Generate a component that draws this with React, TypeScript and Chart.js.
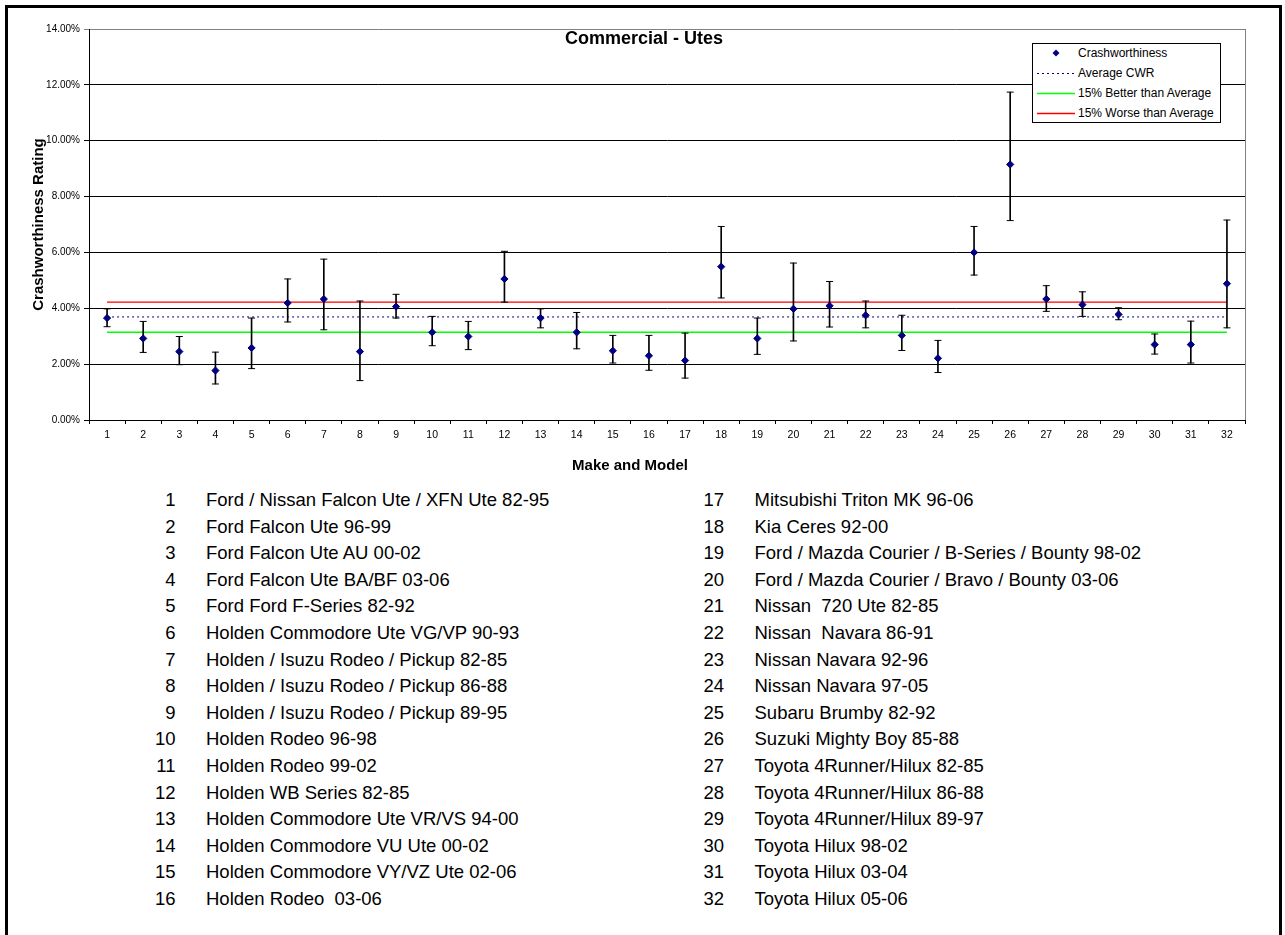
import React, { useEffect, useRef } from 'react';
import { Chart, registerables } from 'chart.js';

Chart.register(...registerables);

// ---------- data (percent) ----------
const CATEGORIES = [
  '1', '2', '3', '4', '5', '6', '7', '8', '9', '10', '11', '12', '13', '14', '15', '16',
  '17', '18', '19', '20', '21', '22', '23', '24', '25', '26', '27', '28', '29', '30', '31', '32',
];

const CWR = [
  3.65, 2.92, 2.45, 1.77, 2.58, 4.19, 4.33, 2.45, 4.06, 3.14, 2.99, 5.05, 3.65, 3.14, 2.48, 2.3,
  2.13, 5.49, 2.92, 3.98, 4.09, 3.75, 3.03, 2.21, 6.0, 9.15, 4.33, 4.13, 3.78, 2.7, 2.7, 4.88,
];

const CI_UPPER = [
  3.98, 3.53, 2.99, 2.43, 3.65, 5.05, 5.76, 4.26, 4.5, 3.71, 3.53, 6.04, 3.98, 3.85, 3.03, 3.03,
  3.11, 6.93, 3.65, 5.62, 4.96, 4.26, 3.75, 2.85, 6.93, 11.74, 4.81, 4.59, 4.02, 3.08, 3.54, 7.16,
];

const CI_LOWER = [
  3.34, 2.42, 1.98, 1.29, 1.84, 3.51, 3.23, 1.41, 3.65, 2.66, 2.52, 4.22, 3.3, 2.55, 2.04, 1.78,
  1.5, 4.37, 2.35, 2.83, 3.33, 3.3, 2.49, 1.7, 5.19, 7.14, 3.89, 3.71, 3.59, 2.36, 2.04, 3.3,
];

const AVERAGE_CWR = 3.69;
const BETTER_THAN_AVERAGE = 3.14;
const WORSE_THAN_AVERAGE = 4.22;

const Y_MIN = 0;
const Y_MAX = 14;
const Y_STEP = 2;

const MODEL_NAMES = [
  'Ford / Nissan Falcon Ute / XFN Ute 82-95',
  'Ford Falcon Ute 96-99',
  'Ford Falcon Ute AU 00-02',
  'Ford Falcon Ute BA/BF 03-06',
  'Ford Ford F-Series 82-92',
  'Holden Commodore Ute VG/VP 90-93',
  'Holden / Isuzu Rodeo / Pickup 82-85',
  'Holden / Isuzu Rodeo / Pickup 86-88',
  'Holden / Isuzu Rodeo / Pickup 89-95',
  'Holden Rodeo 96-98',
  'Holden Rodeo 99-02',
  'Holden WB Series 82-85',
  'Holden Commodore Ute VR/VS 94-00',
  'Holden Commodore VU Ute 00-02',
  'Holden Commodore VY/VZ Ute 02-06',
  'Holden Rodeo  03-06',
  'Mitsubishi Triton MK 96-06',
  'Kia Ceres 92-00',
  'Ford / Mazda Courier / B-Series / Bounty 98-02',
  'Ford / Mazda Courier / Bravo / Bounty 03-06',
  'Nissan  720 Ute 82-85',
  'Nissan  Navara 86-91',
  'Nissan Navara 92-96',
  'Nissan Navara 97-05',
  'Subaru Brumby 82-92',
  'Suzuki Mighty Boy 85-88',
  'Toyota 4Runner/Hilux 82-85',
  'Toyota 4Runner/Hilux 86-88',
  'Toyota 4Runner/Hilux 89-97',
  'Toyota Hilux 98-02',
  'Toyota Hilux 03-04',
  'Toyota Hilux 05-06',
];

const TITLE = 'Commercial - Utes';
const X_TITLE = 'Make and Model';
const Y_TITLE = 'Crashworthiness Rating';

const FONT = "'Liberation Sans', Arial, Helvetica, sans-serif";
const NAVY = '#000080';
const GREEN = '#00ff00';
const RED = '#ff0000';

const LEGEND_ITEMS = [
  { label: 'Crashworthiness', kind: 'marker' },
  { label: 'Average CWR', kind: 'dotted' },
  { label: '15% Better than Average', kind: 'green' },
  { label: '15% Worse than Average', kind: 'red' },
];

function LegendSample({ kind }: { kind: string }) {
  return (
    <svg width={40} height={20} style={{ position: 'absolute', left: 4, top: 0 }}>
      {kind === 'marker' && <polygon points="19,6.5 22.5,10 19,13.5 15.5,10" fill={NAVY} />}
      {kind === 'dotted' && (
        <line x1={0} x2={38} y1={10.5} y2={10.5} stroke={NAVY} strokeWidth={1} strokeDasharray="2 3" />
      )}
      {kind === 'green' && <line x1={0} x2={38} y1={10.5} y2={10.5} stroke={GREEN} strokeWidth={1.6} />}
      {kind === 'red' && <line x1={0} x2={38} y1={10.5} y2={10.5} stroke={RED} strokeWidth={1.4} />}
    </svg>
  );
}

function ModelColumn({ left, start, end }: { left: number; start: number; end: number }) {
  const rows = MODEL_NAMES.slice(start, end);
  return (
    <div style={{ position: 'absolute', left, top: 487, width: 560, height: 16 * 26.6 }}>
      {rows.map((name, i) => (
        <div
          key={i}
          style={{
            position: 'absolute',
            left: 0,
            top: i * 26.6,
            height: 26.6,
            lineHeight: '26.6px',
            fontSize: 18.5,
            color: '#000',
            whiteSpace: 'pre',
          }}
        >
          <span style={{ position: 'absolute', left: 0, width: 35.5, textAlign: 'right' }}>
            {CATEGORIES[start + i]}
          </span>
          <span style={{ position: 'absolute', left: 66 }}>{name}</span>
        </div>
      ))}
    </div>
  );
}

export default function App() {
  const canvasRef = useRef<HTMLCanvasElement>(null);

  useEffect(() => {
    document.documentElement.style.overflow = 'hidden';
    const canvas = canvasRef.current;
    if (!canvas) return;

    const plotFrame = {
      id: 'plotFrame',
      afterDraw(chart: any) {
        const { ctx, chartArea } = chart;
        const x = Math.round(chartArea.right) + 0.5;
        ctx.save();
        ctx.strokeStyle = '#808080';
        ctx.lineWidth = 1;
        ctx.beginPath();
        ctx.moveTo(x, chartArea.top);
        ctx.lineTo(x, chartArea.bottom);
        ctx.stroke();
        ctx.restore();
      },
    };

    const chart = new Chart(canvas, {
      type: 'bar',
      data: {
        labels: CATEGORIES,
        datasets: [
          {
            type: 'line',
            label: 'Crashworthiness',
            data: CWR,
            showLine: false,
            pointStyle: 'rectRot',
            pointRadius: 3.6,
            pointBackgroundColor: NAVY,
            pointBorderColor: NAVY,
            pointBorderWidth: 1,
            borderColor: NAVY,
            backgroundColor: NAVY,
            order: 0,
          } as any,
          {
            type: 'line',
            label: 'Upper limit',
            data: CI_UPPER,
            showLine: false,
            pointStyle: 'line',
            pointRadius: 3.5,
            pointBorderColor: '#000',
            pointBorderWidth: 1,
            borderColor: '#000',
            order: 1,
          } as any,
          {
            type: 'line',
            label: 'Lower limit',
            data: CI_LOWER,
            showLine: false,
            pointStyle: 'line',
            pointRadius: 3.5,
            pointBorderColor: '#000',
            pointBorderWidth: 1,
            borderColor: '#000',
            order: 1,
          } as any,
          {
            type: 'bar',
            label: 'Range',
            data: CI_LOWER.map((lo, i) => [lo, CI_UPPER[i]]),
            barThickness: 1,
            backgroundColor: '#000',
            borderWidth: 0,
            order: 2,
          } as any,
          {
            type: 'line',
            label: 'Average CWR',
            data: [
              { x: CATEGORIES[0], y: AVERAGE_CWR },
              { x: CATEGORIES[CATEGORIES.length - 1], y: AVERAGE_CWR },
            ],
            borderColor: NAVY,
            borderWidth: 1,
            borderDash: [2, 3],
            pointRadius: 0,
            order: 3,
          } as any,
          {
            type: 'line',
            label: '15% Better than Average',
            data: [
              { x: CATEGORIES[0], y: BETTER_THAN_AVERAGE },
              { x: CATEGORIES[CATEGORIES.length - 1], y: BETTER_THAN_AVERAGE },
            ],
            borderColor: GREEN,
            borderWidth: 1.5,
            pointRadius: 0,
            order: 3,
          } as any,
          {
            type: 'line',
            label: '15% Worse than Average',
            data: [
              { x: CATEGORIES[0], y: WORSE_THAN_AVERAGE },
              { x: CATEGORIES[CATEGORIES.length - 1], y: WORSE_THAN_AVERAGE },
            ],
            borderColor: RED,
            borderWidth: 1.2,
            pointRadius: 0,
            order: 3,
          } as any,
        ],
      },
      options: {
        responsive: false,
        animation: false,
        events: [],
        layout: { padding: { left: 0, right: 40, top: 29, bottom: 6 } },
        plugins: {
          legend: { display: false },
          title: { display: false },
          tooltip: { enabled: false },
        },
        scales: {
          x: {
            type: 'category',
            offset: true,
            grid: {
              offset: true,
              drawOnChartArea: false,
              drawTicks: true,
              tickLength: 4,
              color: '#000',
            },
            border: { display: true, color: '#000', width: 1 },
            ticks: {
              font: { family: FONT, size: 10.5 },
              color: '#000',
              padding: 5,
              maxRotation: 0,
              autoSkip: false,
            },
            afterFit: (scale: any) => {
              scale.height = 54;
            },
          },
          y: {
            min: Y_MIN,
            max: Y_MAX,
            ticks: {
              stepSize: Y_STEP,
              callback: (v: any) => Number(v).toFixed(2) + '%',
              font: { family: FONT, size: 10 },
              color: '#000',
              padding: 4,
            },
            grid: {
              color: (ctx: any) => (ctx.tick && ctx.tick.value === Y_MAX ? '#808080' : '#000'),
              lineWidth: 1,
              tickLength: 5,
            },
            border: { display: true, color: '#000', width: 1 },
            title: {
              display: true,
              text: Y_TITLE,
              font: { family: FONT, size: 15, weight: 'bold' },
              color: '#000',
              padding: { top: 30, bottom: 0 },
            },
            afterFit: (scale: any) => {
              scale.width = 89;
            },
          },
        },
      } as any,
      plugins: [plotFrame],
    });

    return () => {
      chart.destroy();
    };
  }, []);

  return (
    <div
      style={{
        position: 'absolute',
        left: 0,
        top: 0,
        width: 1285,
        height: 935,
        overflow: 'hidden',
        background: '#fff',
        fontFamily: FONT,
      }}
    >
      <div
        style={{
          position: 'absolute',
          left: 5,
          top: 5,
          width: 1277,
          height: 930,
          boxSizing: 'border-box',
          borderTop: '3px solid #000',
          borderLeft: '3px solid #000',
          borderRight: '3px solid #000',
        }}
      />
      <canvas
        ref={canvasRef}
        width={1285}
        height={480}
        style={{ position: 'absolute', left: 0, top: 0, width: 1285, height: 480 }}
      />
      <div
        style={{
          position: 'absolute',
          left: 544,
          top: 27,
          width: 200,
          textAlign: 'center',
          fontSize: 18,
          fontWeight: 'bold',
          lineHeight: '22px',
          color: '#000',
          whiteSpace: 'nowrap',
        }}
      >
        {TITLE}
      </div>
      <div
        style={{
          position: 'absolute',
          left: 530,
          top: 456,
          width: 200,
          textAlign: 'center',
          fontSize: 15,
          fontWeight: 'bold',
          lineHeight: '18px',
          color: '#000',
          whiteSpace: 'nowrap',
        }}
      >
        {X_TITLE}
      </div>
      <div
        style={{
          position: 'absolute',
          left: 1032,
          top: 43,
          width: 189,
          height: 80,
          boxSizing: 'border-box',
          border: '1px solid #000',
          background: '#fff',
        }}
      >
        {LEGEND_ITEMS.map((item, i) => (
          <div key={i} style={{ position: 'absolute', left: 0, top: i * 20 - 1, width: 187, height: 20 }}>
            <LegendSample kind={item.kind} />
            <span
              style={{
                position: 'absolute',
                left: 45,
                top: 0,
                lineHeight: '20px',
                fontSize: 12,
                color: '#000',
                whiteSpace: 'nowrap',
              }}
            >
              {item.label}
            </span>
          </div>
        ))}
      </div>
      <ModelColumn left={140} start={0} end={16} />
      <ModelColumn left={688.5} start={16} end={32} />
    </div>
  );
}
